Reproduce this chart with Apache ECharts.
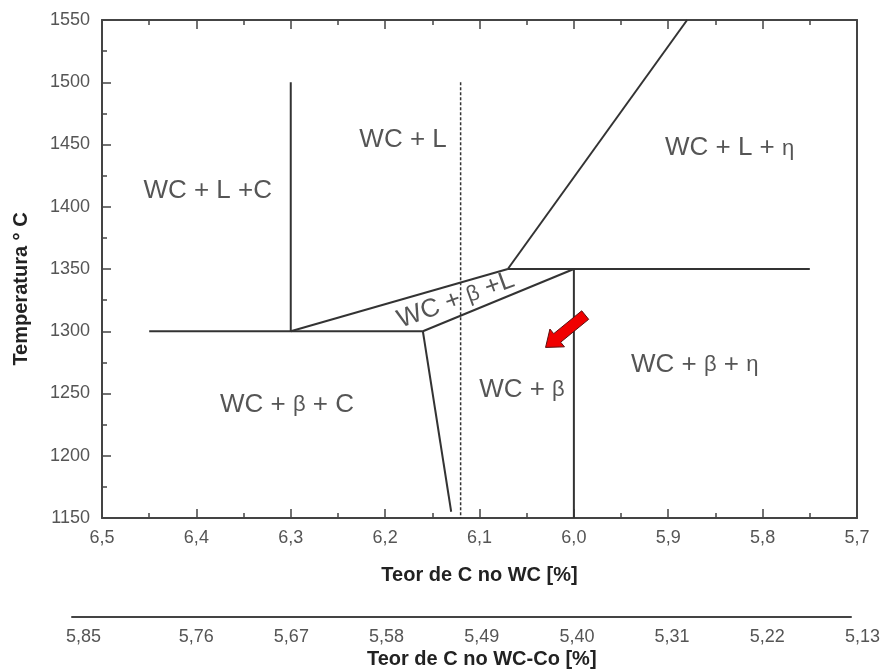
<!DOCTYPE html>
<html>
<head>
<meta charset="utf-8">
<script src="https://cdn.jsdelivr.net/npm/echarts@6/dist/echarts.min.js"></script>
<style>
  html, body { margin: 0; padding: 0; background: #fff; }
  #chart { width: 883px; height: 671px; }
</style>
</head>
<body>
<div id="chart"></div>
<script>
// Axis ranges of the W-C-Co section
const carbonWC = { min: 5.7, max: 6.5, step: 0.1 };
const temperature = { min: 1150, max: 1550, step: 50 };
// Carbon content of the WC-Co alloy, matching the WC scale
const carbonWCCo = ['5,85', '5,76', '5,67', '5,58', '5,49', '5,40', '5,31', '5,22', '5,13'];

// Phase boundaries: [carbon %, temperature °C]
const wcLCBoundary = [[6.30, 1500], [6.30, 1300]];
const eutecticLine = [[6.45, 1300], [6.16, 1300]];
const threePhaseUpper = [[6.30, 1300], [6.07, 1350]];
const threePhaseLower = [[6.16, 1300], [6.00, 1350]];
const etaEutecticLine = [[6.07, 1350], [5.75, 1350]];
const etaSolvus = [[6.00, 1350], [6.00, 1150]];
const carbonSolvus = [[6.16, 1300], [6.13, 1155]];
const etaLiquidus = [[6.07, 1350], [5.88, 1550]];
const alloyComposition = [[6.12, 1500], [6.12, 1150]];

// Phase-field names and where they sit: [text, carbon %, temperature °C]
const phaseFields = [
  ['WC + L +C', 6.388, 1413],
  ['WC + L', 6.181, 1454],
  ['WC + L + η', 5.835, 1447],
  ['WC + β + C', 6.304, 1241],
  ['WC + β', 6.055, 1253],
  ['WC + β + η', 5.872, 1273]
];
const threePhaseField = ['WC + β +L', 6.125, 1325];

// Shift direction arrow: [from carbon, from T, to carbon, to T]
const shiftArrow = [5.988, 1313, 6.030, 1287];

const FONT = '"Liberation Sans", Arial, sans-serif';
const LINE = '#333';
const TICK_COLOR = '#555';
const TEXT = '#2a2a2a';

const boundarySeries = [
  wcLCBoundary, eutecticLine, threePhaseUpper, threePhaseLower,
  etaEutecticLine, etaSolvus, carbonSolvus, etaLiquidus
].map(pts => ({
  type: 'line',
  data: pts,
  symbol: 'none',
  silent: true,
  lineStyle: { color: LINE, width: 2 },
  xAxisIndex: 0, yAxisIndex: 0,
  z: 3
}));

const richGreek = {
  t: { fontSize: 26, fontFamily: FONT, color: TEXT },
  g: { fontSize: 22, fontFamily: FONT, color: TEXT, padding: [1, 0, 0, 0] }
};
function phaseText(s) {
  return s.split(/([βη])/).filter(p => p.length).map(p =>
    (p === 'β' || p === 'η') ? '{g|' + p + '}' : '{t|' + p + '}'
  ).join('');
}

const chart = echarts.init(document.getElementById('chart'), null, { renderer: 'canvas' });

const mainX = {
  type: 'value', min: carbonWC.min, max: carbonWC.max, interval: carbonWC.step,
  inverse: true, gridIndex: 0
};
const frameLine = { show: true, onZero: false, lineStyle: { color: '#444', width: 2 } };
const majorTick = { show: true, inside: true, length: 9, lineStyle: { color: '#444', width: 1.5 } };
const minorTick = { show: true, splitNumber: 2, length: 5, lineStyle: { color: '#444', width: 1.5 } };
const titleStyle = { fontFamily: FONT, fontSize: 20, fontWeight: 'bold', color: '#222' };
const tickFont = { fontFamily: FONT, fontSize: 18, color: TICK_COLOR };

chart.setOption({
  animation: false,
  backgroundColor: '#fff',
  grid: [
    { left: 102, right: 26, top: 20, bottom: 153 },
    { left: 72, right: 32, top: 616, height: 1 },
    { left: 101, right: 18, top: 616, height: 1 }
  ],
  xAxis: [
    Object.assign({}, mainX, {
      position: 'bottom',
      name: 'Teor de C no WC [%]',
      nameLocation: 'middle',
      nameGap: 47,
      nameTextStyle: titleStyle,
      axisLine: frameLine,
      axisTick: majorTick,
      minorTick: minorTick,
      axisLabel: Object.assign({}, tickFont, {
        margin: 11,
        formatter: v => v.toFixed(1).replace('.', ',')
      }),
      splitLine: { show: false }
    }),
    Object.assign({}, mainX, {
      position: 'top',
      axisLine: frameLine,
      axisTick: majorTick,
      minorTick: minorTick,
      axisLabel: { show: false },
      splitLine: { show: false }
    }),
    {
      type: 'value', gridIndex: 1, min: 0, max: 1, position: 'bottom',
      axisLine: frameLine,
      axisTick: { show: false }, axisLabel: { show: false }, splitLine: { show: false }
    },
    {
      type: 'category', gridIndex: 2, data: carbonWCCo, boundaryGap: false, position: 'bottom',
      name: 'Teor de C no WC-Co [%]',
      nameLocation: 'middle',
      nameGap: 32,
      nameTextStyle: titleStyle,
      axisLine: { show: false }, axisTick: { show: false }, splitLine: { show: false },
      axisLabel: Object.assign({}, tickFont, {
        interval: 0, margin: 11, alignMinLabel: 'right'
      })
    }
  ],
  yAxis: [
    {
      type: 'value', gridIndex: 0, min: temperature.min, max: temperature.max, interval: temperature.step,
      position: 'left',
      name: 'Temperatura ° C',
      nameLocation: 'middle',
      nameGap: 71,
      nameTextStyle: Object.assign({}, titleStyle, { padding: [0, 40, 0, 0] }),
      axisLine: frameLine,
      axisTick: majorTick,
      minorTick: minorTick,
      axisLabel: Object.assign({}, tickFont, { margin: 12, formatter: v => String(v) }),
      splitLine: { show: false }
    },
    {
      type: 'value', gridIndex: 0, min: temperature.min, max: temperature.max, interval: temperature.step,
      position: 'right',
      axisLine: frameLine,
      axisTick: { show: false }, axisLabel: { show: false }, splitLine: { show: false }
    },
    { type: 'value', gridIndex: 1, show: false },
    { type: 'value', gridIndex: 2, show: false }
  ],
  series: boundarySeries.concat([
    {
      type: 'line',
      data: alloyComposition,
      symbol: 'none',
      silent: true,
      lineStyle: { color: LINE, width: 1.5, type: [3, 2] },
      xAxisIndex: 0, yAxisIndex: 0,
      z: 3
    },
    {
      type: 'scatter',
      xAxisIndex: 0, yAxisIndex: 0,
      symbolSize: 0,
      silent: true,
      data: phaseFields.map(f => ({ name: f[0], value: [f[1], f[2]] })),
      label: {
        show: true, position: [0, 0], align: 'center', verticalAlign: 'middle', color: TEXT,
        formatter: p => phaseText(p.name), rich: richGreek
      },
      z: 5
    },
    {
      type: 'scatter',
      xAxisIndex: 0, yAxisIndex: 0,
      symbolSize: 0,
      silent: true,
      data: [{ name: threePhaseField[0], value: [threePhaseField[1], threePhaseField[2]] }],
      label: {
        show: true, position: [0, 0], align: 'center', verticalAlign: 'middle', rotate: 20, color: TEXT,
        formatter: p => phaseText(p.name), rich: richGreek
      },
      z: 5
    },
    {
      type: 'custom',
      xAxisIndex: 0, yAxisIndex: 0,
      silent: true,
      data: [shiftArrow],
      renderItem: function (params, api) {
        const a = api.coord([api.value(0), api.value(1)]);
        const b = api.coord([api.value(2), api.value(3)]);
        const dx = b[0] - a[0], dy = b[1] - a[1];
        const len = Math.sqrt(dx * dx + dy * dy);
        const ux = dx / len, uy = dy / len;
        const px = -uy, py = ux;
        const shaft = 5.5, head = 11.5, headLen = 15;
        const nx = b[0] - ux * headLen, ny = b[1] - uy * headLen;
        const pts = [
          [a[0] + px * shaft, a[1] + py * shaft],
          [nx + px * shaft, ny + py * shaft],
          [nx + px * head, ny + py * head],
          [b[0], b[1]],
          [nx - px * head, ny - py * head],
          [nx - px * shaft, ny - py * shaft],
          [a[0] - px * shaft, a[1] - py * shaft]
        ];
        return {
          type: 'polygon',
          shape: { points: pts },
          style: { fill: '#f00000', stroke: '#5a1010', lineWidth: 1 }
        };
      },
      z: 6
    }
  ])
});
</script>
</body>
</html>
